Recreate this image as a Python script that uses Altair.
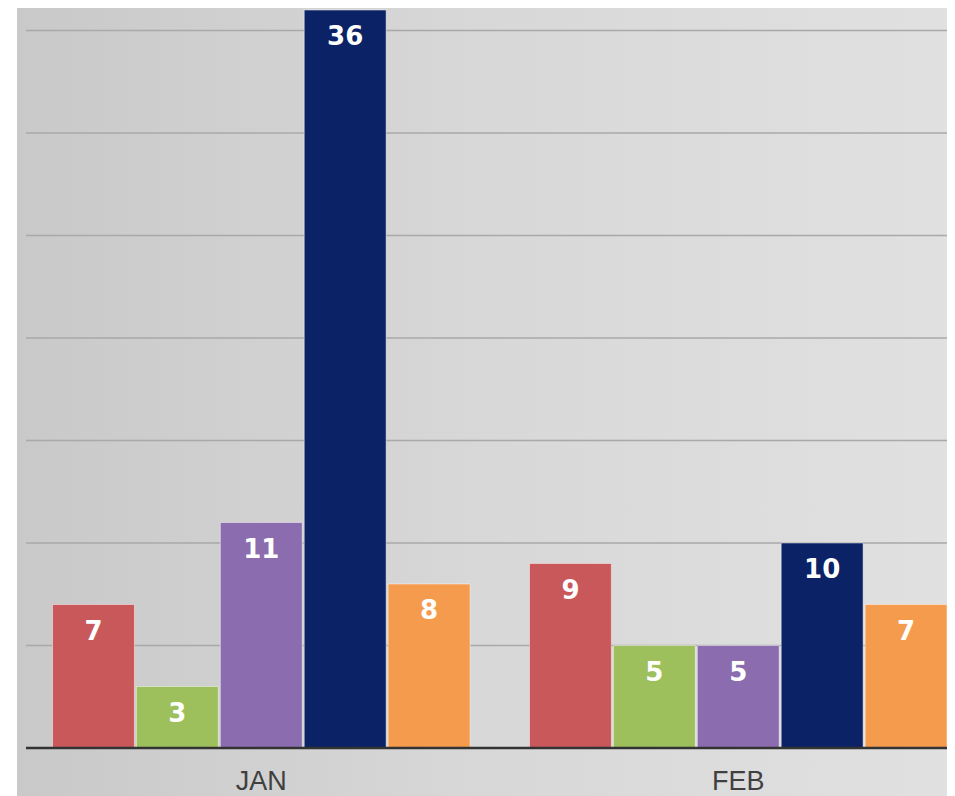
import altair as alt
import pandas as pd

months = ["JAN", "FEB"]
series = ["Series 1", "Series 2", "Series 3", "Series 4", "Series 5"]
jan_values = [7, 3, 11, 36, 8]
feb_values = [9, 5, 5, 10, 7]
colors = ["#c9585a", "#9dc05d", "#8b6daf", "#0b2366", "#f59b4e"]
grid_values = [5, 10, 15, 20, 25, 30, 35]
baseline_values = [0]

rows = []
for m, vals in zip(months, [jan_values, feb_values]):
    for s, v in zip(series, vals):
        rows.append({"month": m, "series": s, "value": v})
df = pd.DataFrame(rows)

W, H = 921, 740
ydom = [0, 36.1]

xscale = alt.Scale(domain=months, paddingInner=0.1247, paddingOuter=0.0278, align=1)
offscale = alt.Scale(domain=series, paddingInner=0.024, paddingOuter=0)
yscale = alt.Scale(domain=ydom)

xaxis = alt.Axis(title=None, domain=False, ticks=False, tickSize=0, grid=False,
                 labelFont="Liberation Sans", labelFontSize=27, labelColor="#404040",
                 labelAngle=0, labelBaseline="alphabetic", labelPadding=41, zindex=1)

base = alt.Chart(df).encode(
    x=alt.X("month:N", scale=xscale, sort=months, axis=xaxis),
    xOffset=alt.XOffset("series:N", scale=offscale, sort=series),
    y=alt.Y("value:Q", scale=yscale, axis=None),
)

bars = base.mark_bar(stroke="#ffffff", strokeOpacity=0.45, strokeWidth=1).encode(
    color=alt.Color("series:N", scale=alt.Scale(domain=series, range=colors), legend=None)
)

text = base.mark_text(baseline="middle", dy=27, font="DejaVu Sans", fontWeight="bold",
                      fontSize=26, color="white").encode(text="value:Q")

grid = alt.Chart(pd.DataFrame({"v": grid_values})).mark_rule(
    color="#a9a9a9", strokeWidth=1.5
).encode(y=alt.Y("v:Q", scale=yscale, axis=None))

base_rule = alt.Chart(pd.DataFrame({"v": baseline_values})).mark_rule(
    color="#333333", strokeWidth=2.5
).encode(y=alt.Y("v:Q", scale=yscale, axis=None))

bg = alt.Chart(pd.DataFrame({"bg": [0]})).mark_rect(
    color=alt.Gradient(
        gradient="linear",
        stops=[alt.GradientStop(color="#c9c9c9", offset=0),
               alt.GradientStop(color="#d8d8d8", offset=0.5),
               alt.GradientStop(color="#e1e1e1", offset=1)],
        x1=0, x2=1, y1=0, y2=0,
    )
).encode(x=alt.value(-9), x2=alt.value(W + 20), y=alt.value(0), y2=alt.value(H + 60))

chart = alt.layer(bg, grid, bars, base_rule, text).properties(
    width=W, height=H,
    autosize=alt.AutoSizeParams(type="none"),
    padding={"left": 18, "top": 0, "right": 0, "bottom": 48},
    background="white",
).configure_view(stroke=None)

chart.save("out.html", embed_options={"renderer": "svg", "actions": False})
